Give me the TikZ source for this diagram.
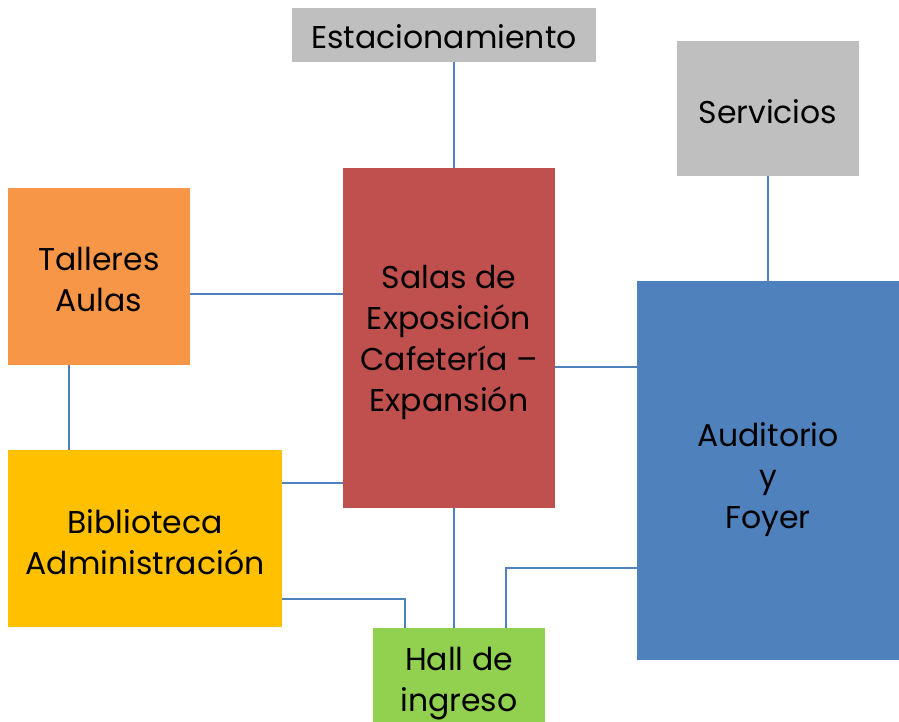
\documentclass[tikz,border=0pt]{standalone}
\usepackage{fontspec}
\setmainfont{Poppins}
\begin{document}
\begin{tikzpicture}[x=1pt,y=-1pt,
  box/.style={rectangle,inner sep=0pt},
  lab/.style={inner sep=0pt,align=center,text=black,font=\fontsize{31.5}{41}\selectfont},
  link/.style={draw=linkblue,line width=1.2pt}]
\definecolor{linkblue}{RGB}{79,129,189}
\definecolor{cgray}{RGB}{191,191,191}
\definecolor{corange}{RGB}{247,150,70}
\definecolor{cgold}{RGB}{255,192,0}
\definecolor{cred}{RGB}{192,80,77}
\definecolor{cblue}{RGB}{79,129,189}
\definecolor{cgreen}{RGB}{146,208,80}
\useasboundingbox (0,0) rectangle (899,722);
\node[box,fill=cgray,minimum width=304pt,minimum height=54pt,
  label={[lab,yshift=-2pt]center:Estacionamiento}] (est) at (444,35) {};
\node[box,fill=cgray,minimum width=182pt,minimum height=135pt,
  label={[lab,yshift=-3pt]center:Servicios}] (serv) at (768,108.5) {};
\node[box,fill=cred,minimum width=212pt,minimum height=340pt,
  label={[lab,yshift=-4pt]center:{Salas de\\Exposición\\Cafetería --\\Expansión}}] (salas) at (449,338) {};
\node[box,fill=corange,minimum width=182pt,minimum height=177pt,
  label={[lab,yshift=-3pt]center:{Talleres\\Aulas}}] (tall) at (99,276.5) {};
\node[box,fill=cgold,minimum width=274pt,minimum height=177pt,
  label={[lab,yshift=-3.5pt]center:{Biblioteca\\Administración}}] (bib) at (145,538.5) {};
\node[box,fill=cgreen,minimum width=172pt,minimum height=94pt,
  label={[lab,yshift=-9pt]center:{Hall de\\ingreso}}] (hall) at (459,675) {};
\node[box,fill=cblue,minimum width=262pt,minimum height=379pt,
  label={[lab,yshift=-9pt]center:{Auditorio\\y\\Foyer}}] (aud) at (768,470.5) {};
\coordinate (c454) at (454,0);
\coordinate (c69) at (69,0);
\coordinate (c405) at (405,0);
\coordinate (c506) at (506,0);
\coordinate (r294) at (0,294);
\coordinate (r367) at (0,367);
\coordinate (r483) at (0,483);
\coordinate (r599) at (0,599);
\coordinate (r568) at (0,568);
\draw[link] (est.south -| c454) -- (salas.north -| c454);
\draw[link] (serv.south) -- (serv.south |- aud.north);
\draw[link] (tall.east |- r294) -- (salas.west |- r294);
\draw[link] (tall.south -| c69) -- (bib.north -| c69);
\draw[link] (salas.east |- r367) -- (aud.west |- r367);
\draw[link] (bib.east |- r483) -- (salas.west |- r483);
\draw[link] (salas.south -| c454) -- (hall.north -| c454);
\draw[link] (bib.east |- r599) -| (hall.north -| c405);
\draw[link] (aud.west |- r568) -| (hall.north -| c506);
\end{tikzpicture}
\end{document}
